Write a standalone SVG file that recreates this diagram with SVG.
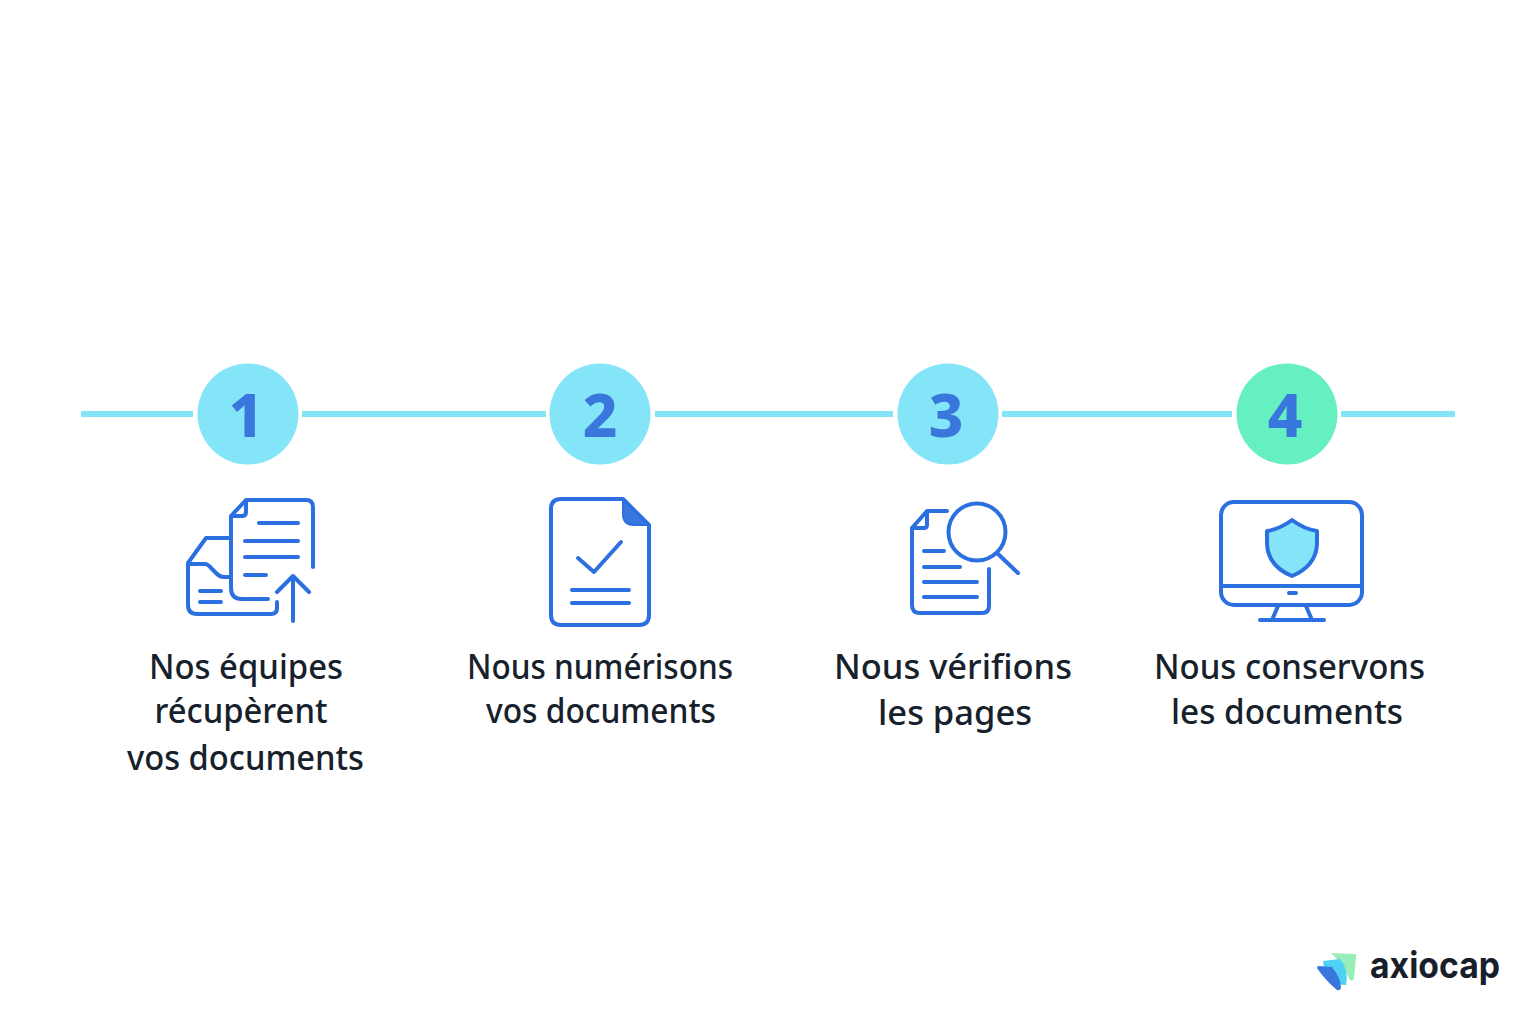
<svg xmlns="http://www.w3.org/2000/svg" width="1536" height="1024" viewBox="0 0 1536 1024">
<style>
.bar{stroke:#84e5f8;stroke-width:6;fill:none}
.ic{fill:none;stroke:#2b6fe0;stroke-width:4;stroke-linecap:round;stroke-linejoin:round}
.num{font-family:"Noto Sans",sans-serif;font-weight:800;font-size:60px;fill:#3a77dc;text-anchor:middle}
.lb{font-family:"Noto Sans",sans-serif;font-weight:500;font-size:33.5px;fill:#17212b;text-anchor:middle}
</style>
<rect width="1536" height="1024" fill="#fff"/>
<g id="connectors">
<path class="bar" d="M81 414H193M302 414H546M655 414H893M1002 414H1232M1341 414H1455"/>
</g>
<g id="step1">
<circle cx="248" cy="414" r="50.5" fill="#84e5f8"/>
<text class="num" x="246" y="437">1</text>
<path class="ic" d="M231 516L246 500H306Q313 500 313 507V567M231 516V588Q231 599 242 599H268M246 500V512Q246 516 242 516H231"/>
<path class="ic" d="M231 538H206L188 563V605Q188 614 197 614H271Q277 614 277 608V602M188 564H205Q208 564 212 569L217 574Q220 577 224 577H231"/>
<path class="ic" d="M259 523H298M245 541H298M245 557H298M245 575H266M200 591H221M200 602H221M293 621V576M277 592L293 576L309 592"/>
<text class="lb" x="246" y="679" textLength="194" lengthAdjust="spacingAndGlyphs">Nos équipes</text>
<text class="lb" x="241" y="723" textLength="173" lengthAdjust="spacingAndGlyphs">récupèrent</text>
<text class="lb" x="245.500" y="770" textLength="237" lengthAdjust="spacingAndGlyphs">vos documents</text>
</g>
<g id="step2">
<circle cx="600" cy="414" r="50.5" fill="#84e5f8"/>
<text class="num" x="600" y="437">2</text>
<path d="M623 499L650 525H634Q623 525 623 514Z" fill="#3a77dc" stroke="#2b6fe0" stroke-width="2" stroke-linejoin="round"/>
<path class="ic" d="M623 499H561Q551 499 551 509V615Q551 625 561 625H639Q649 625 649 615V525L623 499"/>
<path class="ic" d="M578 558L594 572L621 542M572 590H629M572 603H629"/>
<text class="lb" x="600" y="679" textLength="266" lengthAdjust="spacingAndGlyphs">Nous numérisons</text>
<text class="lb" x="601" y="723" textLength="230" lengthAdjust="spacingAndGlyphs">vos documents</text>
</g>
<g id="step3">
<circle cx="948" cy="414" r="50.5" fill="#84e5f8"/>
<text class="num" x="946" y="437">3</text>
<path class="ic" d="M947 511H927L912 528V605Q912 613 920 613H982Q989 613 989 606V569M927 512V525Q927 528 924 528H912"/>
<path class="ic" d="M924 551H944M924 567H960M924 582H977M924 597H977M997 553L1018 573"/>
<circle class="ic" cx="977" cy="532" r="28.5"/>
<text class="lb" x="953" y="679" textLength="238" lengthAdjust="spacingAndGlyphs">Nous vérifions</text>
<text class="lb" x="955" y="725" textLength="154" lengthAdjust="spacingAndGlyphs">les pages</text>
</g>
<g id="step4">
<circle cx="1287" cy="414" r="50.5" fill="#66efc0"/>
<text class="num" x="1285" y="437">4</text>
<rect class="ic" x="1221" y="502" width="141" height="103" rx="13"/>
<path class="ic" d="M1221 586H1362M1278 606L1272 620M1306 606L1312 620M1260 620H1324M1289 593H1296"/>
<path class="ic" d="M1292 520Q1304 529 1317 531V544Q1316 566 1292 576Q1268 566 1267 544V531Q1280 529 1292 520Z" style="fill:#84e5f8"/>
<text class="lb" x="1289.500" y="679" textLength="271" lengthAdjust="spacingAndGlyphs">Nous conservons</text>
<text class="lb" x="1287" y="724" textLength="232" lengthAdjust="spacingAndGlyphs">les documents</text>
</g>
<g id="logo">
<path d="M1331 953L1354 954Q1357 954 1356 957L1354 978Q1353 982 1350 980Q1345 970 1340 962Z" fill="#98eeb8"/>
<path d="M1323 961L1340 959Q1349 970 1346 985Q1335 985 1325 975Z" fill="#4fd0f5"/>
<path d="M1317 968Q1317 966 1319 966L1332 967Q1341 978 1341 988Q1340 991 1337 990Q1325 980 1317 968Z" fill="#3a77dc"/>
<text x="1370" y="978" textLength="130" lengthAdjust="spacingAndGlyphs" style="font-family:Inter,sans-serif;font-weight:700;font-size:36px;fill:#17202a">axiocap</text>
</g>
</svg>
